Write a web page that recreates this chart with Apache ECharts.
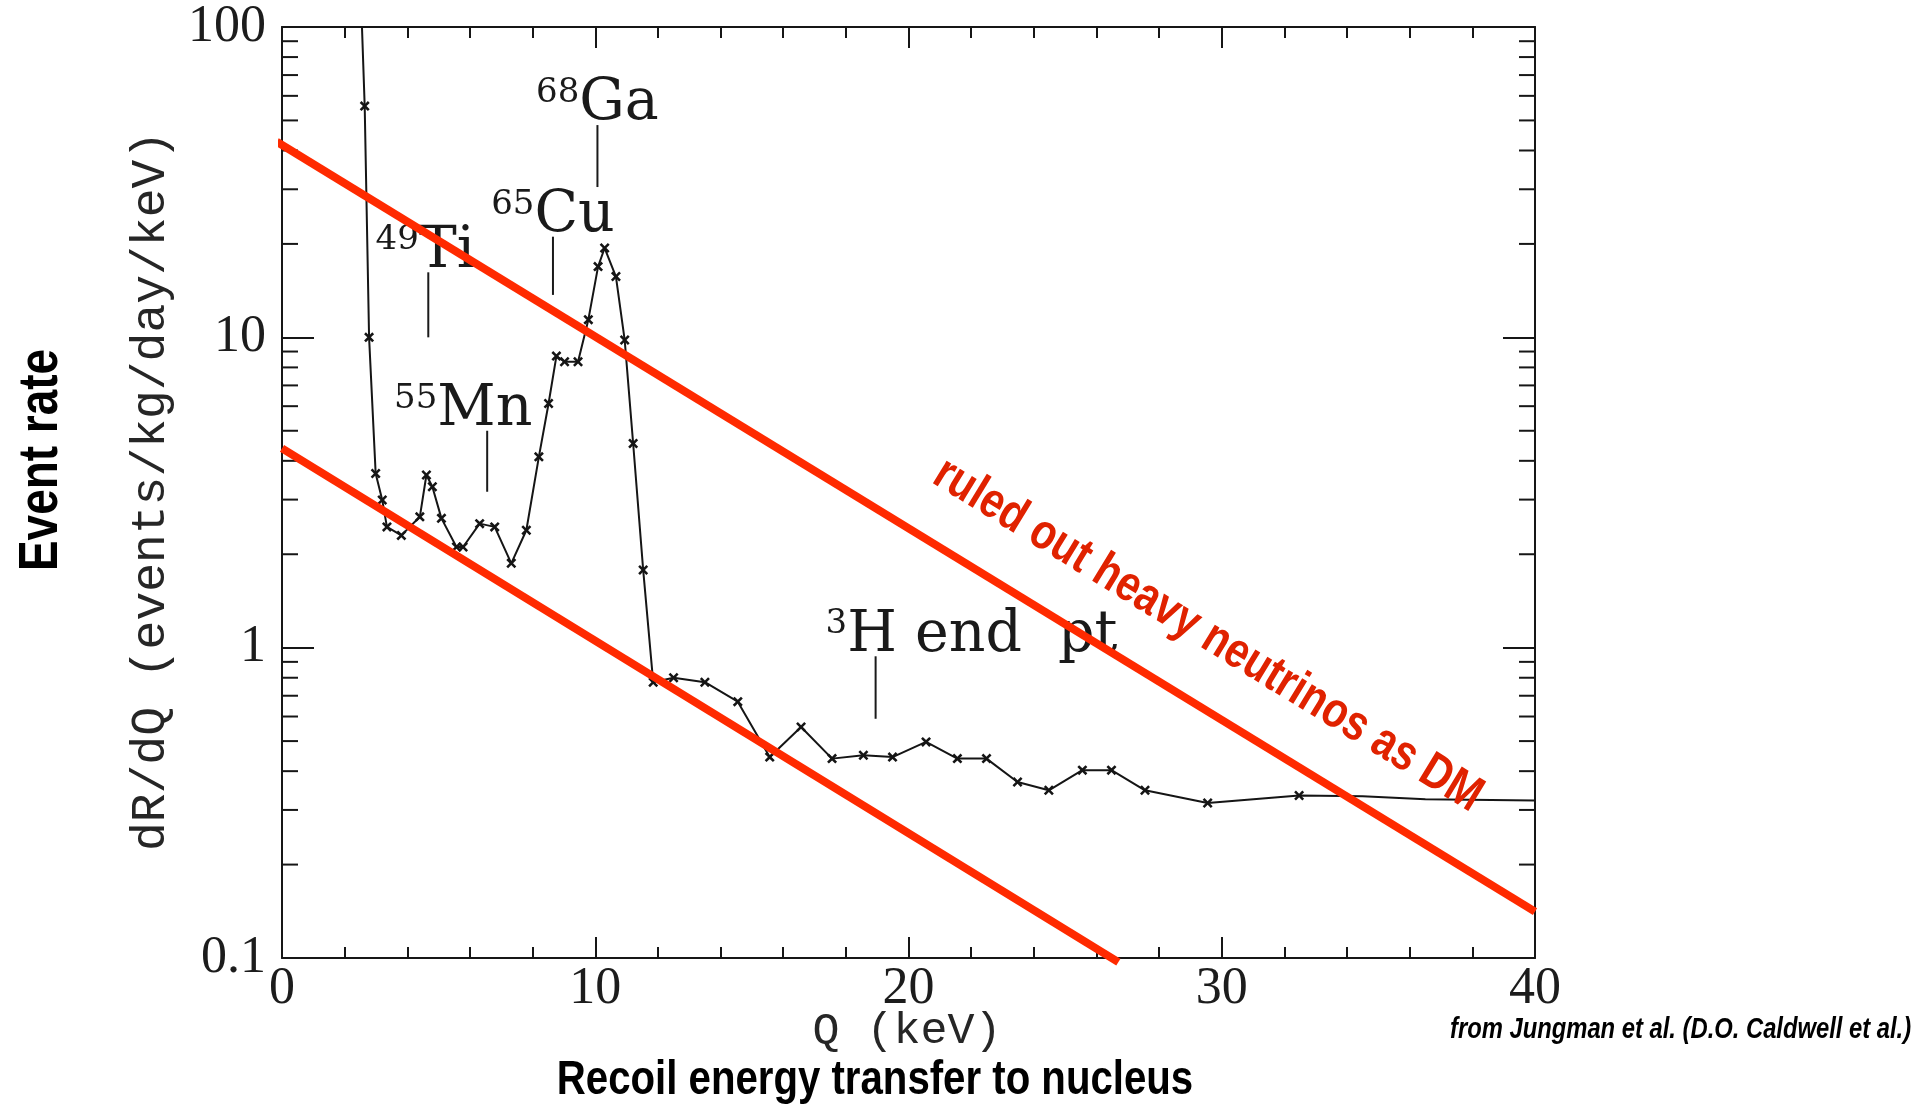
<!DOCTYPE html>
<html>
<head>
<meta charset="utf-8">
<script src="https://cdn.jsdelivr.net/npm/echarts@6/dist/echarts.min.js"></script>
<style>
  html, body { margin: 0; padding: 0; background: #ffffff; }
  #chart { width: 1925px; height: 1113px; }
</style>
</head>
<body>
<div id="chart"></div>
<script>
// Differential event rate of a germanium detector vs. deposited energy Q
// (crosses mark the measured bins; the first bin sits above the frame)
const qKeV = [2.45, 2.64, 2.78, 2.99, 3.20, 3.35, 3.81, 4.40, 4.61, 4.80,
              5.09, 5.57, 5.78, 6.31, 6.79, 7.32, 7.80, 8.20, 8.51, 8.76,
              9.02, 9.45, 9.78, 10.09, 10.30, 10.66, 10.94, 11.21, 11.53, 11.85,
              12.50, 13.50, 14.55, 15.57, 16.57, 17.56, 18.56, 19.49, 20.56, 21.56,
              22.49, 23.48, 24.48, 25.55, 26.48, 27.55, 29.55, 32.47];
const rate = [200, 55.6, 10.0, 3.64, 2.99, 2.45, 2.30, 2.64, 3.60, 3.30,
              2.61, 2.11, 2.11, 2.51, 2.45, 1.87, 2.39, 4.12, 6.12, 8.7,
              8.34, 8.34, 11.4, 16.9, 19.4, 15.7, 9.8, 4.55, 1.78, 0.774,
              0.80, 0.774, 0.67, 0.444, 0.555, 0.439, 0.45, 0.444, 0.497, 0.439,
              0.439, 0.369, 0.347, 0.403, 0.403, 0.347, 0.316, 0.334];
// smooth continuation of the spectrum up to 40 keV
const tailQ = [34.5, 36.5, 40.0];
const tailRate = [0.332, 0.325, 0.322];

// heavy-neutrino dark-matter recoil spectra (upper one is excluded)
const ruledOutLine = [[-0.17, 42.7], [40.0, 0.141]];
const lowerLine = [[0.0, 4.39], [26.7, 0.097]];

// line annotations: mass number, element text, Q of pointer, pointer top / bottom rate
const annoMass = ['68', '65', '49', '55', '3'];
const annoText = ['Ga', 'Cu', 'Ti', 'Mn', 'H end pt'];
const annoQ = [10.07, 8.65, 4.67, 6.55, 18.95];
const annoTop = [48.3, 21.1, 16.2, 5.0, 0.938];
const annoBottom = [30.5, 13.7, 10.0, 3.18, 0.59];

// axis ticks
const xTickStep = 10;
const yRange = [0.1, 100];
const yMinorTicks = [0.2, 0.3, 0.4, 0.5, 0.6, 0.7, 0.8, 0.9,
                     2, 3, 4, 5, 6, 7, 8, 9,
                     20, 30, 40, 50, 60, 70, 80, 90];

const FRAME = '#161616';
const RED_LINE = '#ff2a00';
const RED_TEXT = '#e02200';
const SANS = "'Liberation Sans', Arial, sans-serif";
const NARROW_X = 0.82;   // horizontal squeeze giving the condensed bold face
const CROSS = 'path://M0,1.8L1.8,0L5,3.2L8.2,0L10,1.8L6.8,5L10,8.2L8.2,10L5,6.8L1.8,10L0,8.2L3.2,5Z';

// per-label placement relative to the top of its pointer
const annoLayout = [
  { dx: 0, align: 'center' },
  { dx: 0, align: 'center' },
  { dx: -3, align: 'center' },
  { dx: -24, align: 'center' },
  { dx: -50, align: 'left' }
];

const spectrumData = qKeV.map((q, i) => {
  const item = { value: [q, rate[i]] };
  if (rate[i] > yRange[1]) item.symbol = 'none';
  return item;
}).concat(tailQ.map((q, i) => ({ value: [q, tailRate[i]], symbol: 'none' })));

function xAxisDef(pos) {
  return {
    type: 'value', min: 0, max: 40, interval: xTickStep, position: pos,
    axisLine: { show: true, onZero: false, lineStyle: { color: FRAME, width: 2 } },
    axisTick: { show: true, inside: true, length: 21, lineStyle: { color: FRAME, width: 2 } },
    minorTick: { show: true, splitNumber: 5, length: 11, lineStyle: { color: FRAME, width: 2 } },
    splitLine: { show: false }, minorSplitLine: { show: false },
    axisLabel: {
      show: pos === 'bottom', fontFamily: "'Liberation Serif', serif", fontSize: 52,
      color: '#1c1c1c', margin: 5
    }
  };
}
function yAxisDef(pos) {
  return {
    type: 'log', logBase: 10, min: yRange[0], max: yRange[1], position: pos,
    axisLine: { show: true, onZero: false, lineStyle: { color: FRAME, width: 2 } },
    axisTick: { show: true, inside: true, length: 32, lineStyle: { color: FRAME, width: 2 } },
    splitLine: { show: false },
    axisLabel: {
      show: pos === 'left', fontFamily: "'Liberation Serif', serif", fontSize: 52,
      color: '#1c1c1c', margin: 16
    }
  };
}

// splits "H end pt" so the wide word gap of the plot lettering is kept
function annoRichText(i) {
  const t = annoText[i];
  const k = t.lastIndexOf(' ');
  if (k < 0) return '{sup|' + annoMass[i] + '}{main|' + t + '}';
  return '{sup|' + annoMass[i] + '}{main|' + t.slice(0, k + 1) + '}{wide|' + t.slice(k + 1) + '}';
}

const chart = echarts.init(document.getElementById('chart'), null, { renderer: 'canvas' });

chart.setOption({
  animation: false,
  backgroundColor: '#ffffff',
  grid: { left: 282, top: 27, right: 390, bottom: 155, containLabel: false },
  xAxis: [xAxisDef('bottom'), xAxisDef('top')],
  yAxis: [yAxisDef('left'), yAxisDef('right')],
  series: [
    {
      // minor log ticks on the left and right frame
      type: 'custom', silent: true, z: 3,
      data: yMinorTicks.map(v => [0, v]),
      renderItem(params, api) {
        const y = api.coord([0, api.value(1)])[1];
        const cs = params.coordSys;
        const st = { stroke: FRAME, lineWidth: 2 };
        return {
          type: 'group', children: [
            { type: 'line', shape: { x1: cs.x, y1: y, x2: cs.x + 16, y2: y }, style: st },
            { type: 'line', shape: { x1: cs.x + cs.width - 16, y1: y, x2: cs.x + cs.width, y2: y }, style: st }
          ]
        };
      }
    },
    {
      name: 'dR/dQ', type: 'line', z: 4,
      data: spectrumData,
      symbol: CROSS, symbolSize: 10, symbolKeepAspect: true,
      itemStyle: { color: '#151515' },
      lineStyle: { color: '#151515', width: 2 },
      silent: true
    },
    {
      // element line annotations with pointers
      type: 'custom', silent: true, z: 5,
      data: annoQ.map((q, i) => [q, annoTop[i], annoBottom[i]]),
      encode: { x: 0, y: [1, 2] },
      renderItem(params, api) {
        const i = params.dataIndex;
        const top = api.coord([api.value(0), api.value(1)]);
        const bot = api.coord([api.value(0), api.value(2)]);
        const lay = annoLayout[i];
        const serif = "'DejaVu Serif', serif";
        return {
          type: 'group', children: [
            { type: 'line', shape: { x1: top[0], y1: top[1], x2: bot[0], y2: bot[1] },
              style: { stroke: '#1a1a1a', lineWidth: 2 } },
            { type: 'text', x: top[0] + lay.dx, y: top[1] + 8,
              style: {
                text: annoRichText(i),
                align: lay.align, verticalAlign: 'bottom',
                rich: {
                  sup: { fontFamily: serif, fontSize: 34, lineHeight: 34, verticalAlign: 'top', fill: '#1a1a1a' },
                  main: { fontFamily: serif, fontSize: 57, lineHeight: 57, fill: '#1a1a1a' },
                  wide: { fontFamily: serif, fontSize: 57, lineHeight: 57, fill: '#1a1a1a',
                          padding: [0, 0, 0, 18] }
                }
              } }
          ]
        };
      }
    },
    {
      name: 'ruled out', type: 'line', z: 8, clip: false, silent: true,
      data: ruledOutLine, symbol: 'none',
      lineStyle: { color: RED_LINE, width: 8 }
    },
    {
      name: 'allowed', type: 'line', z: 8, clip: false, silent: true,
      data: lowerLine, symbol: 'none',
      lineStyle: { color: RED_LINE, width: 8 }
    }
  ]
});

// label running parallel to the excluded spectrum line
const p0 = chart.convertToPixel({ gridIndex: 0 }, ruledOutLine[0]);
const p1 = chart.convertToPixel({ gridIndex: 0 }, ruledOutLine[1]);
const ang = Math.atan2(p1[1] - p0[1], p1[0] - p0[0]);
const along = 0.713, lift = 65;
const bx = p0[0] + (p1[0] - p0[0]) * along + Math.sin(ang) * lift;
const by = p0[1] + (p1[1] - p0[1]) * along - Math.cos(ang) * lift;

function txt(text, x, y, opts) {
  return Object.assign({
    type: 'text', x: x, y: y, silent: true, z: 20,
    style: Object.assign({ text: text, align: 'center', verticalAlign: 'middle', fill: '#000' }, opts.style)
  }, opts.el || {});
}

chart.setOption({
  graphic: [
    txt('ruled out heavy neutrinos as DM', bx, by, {
      el: { rotation: -ang, scaleX: NARROW_X },
      style: { fontFamily: SANS, fontWeight: 'bold', fontSize: 50, fill: RED_TEXT }
    }),
    txt('Event rate', 42, 460, {
      el: { rotation: Math.PI / 2, scaleX: NARROW_X },
      style: { fontFamily: SANS, fontWeight: 'bold', fontSize: 56, fill: '#000' }
    }),
    txt('dR/dQ (events/kg/day/keV)', 151, 491, {
      el: { rotation: Math.PI / 2 },
      style: { fontFamily: "'Liberation Mono', monospace", fontSize: 48, fill: '#262626' }
    }),
    txt('Q (keV)', 907, 1031, {
      style: { fontFamily: "'Liberation Mono', monospace", fontSize: 45, fill: '#262626' }
    }),
    txt('Recoil energy transfer to nucleus', 875, 1080, {
      el: { scaleX: NARROW_X },
      style: { fontFamily: SANS, fontWeight: 'bold', fontSize: 49, fill: '#000' }
    }),
    txt('from Jungman et al. (D.O. Caldwell et al.)', 1450, 1030, {
      el: { scaleX: NARROW_X },
      style: { fontFamily: SANS, fontWeight: 'bold', fontStyle: 'italic', fontSize: 29,
               fill: '#000', align: 'left' }
    })
  ]
});
</script>
</body>
</html>
